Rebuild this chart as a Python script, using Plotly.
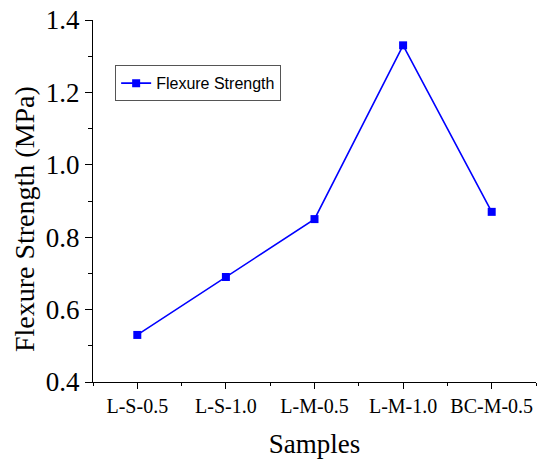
import plotly.graph_objects as go

categories = ["L-S-0.5", "L-S-1.0", "L-M-0.5", "L-M-1.0", "BC-M-0.5"]
flexure_strength = [0.53, 0.69, 0.85, 1.33, 0.87]
y_ticks = [0.4, 0.6, 0.8, 1.0, 1.2, 1.4]

x_pos = list(range(len(categories)))
serif = "Liberation Serif, Times New Roman, serif"

fig = go.Figure()
fig.add_trace(go.Scatter(
    x=x_pos, y=flexure_strength, mode="lines+markers",
    name="Flexure Strength",
    line=dict(color="#0000FF", width=1.6),
    marker=dict(symbol="square", size=8, color="#0000FF"),
))

fig.update_layout(
    width=537, height=459,
    margin=dict(l=93, r=1, t=20, b=77),
    plot_bgcolor="white", paper_bgcolor="white",
    showlegend=True,
    legend=dict(
        x=0.05, y=0.875, xanchor="left", yanchor="top",
        bordercolor="#555555", borderwidth=1, bgcolor="white",
        font=dict(family="Liberation Sans, Arial, sans-serif", size=16, color="black"),
        itemwidth=30, tracegroupgap=0,
    ),
    xaxis=dict(
        range=[-0.5, 4.5], tickvals=x_pos, ticktext=categories, automargin=False,
        ticklabeloverflow="allow",
        showgrid=False, zeroline=False, showline=True, linecolor="black", linewidth=1.2,
        ticks="outside", ticklen=6, tickwidth=1.2, tickcolor="black",
        minor=dict(tickvals=[i + 0.5 for i in range(-1, len(categories))], ticks="outside", ticklen=3, tickcolor="black", tickwidth=1.2),
        tickfont=dict(family=serif, size=20, color="black"),
        title=dict(text="Samples", font=dict(family=serif, size=27, color="black"), standoff=18),
    ),
    yaxis=dict(
        range=[0.4, 1.4], tickvals=y_ticks, tickformat=".1f", automargin=False,
        ticklabeloverflow="allow",
        showgrid=False, zeroline=False, showline=True, linecolor="black", linewidth=1.2,
        ticks="outside", ticklen=7, tickwidth=1.2, tickcolor="black",
        minor=dict(dtick=0.1, ticks="outside", ticklen=4, tickcolor="black", tickwidth=1.2),
        tickfont=dict(family=serif, size=27, color="black"),
    ),
    annotations=[dict(
        text="Flexure Strength (MPa)", textangle=-90,
        xref="paper", yref="paper", x=0, xshift=-69, y=0.45,
        xanchor="center", yanchor="middle", showarrow=False,
        font=dict(family=serif, size=28, color="black"),
    )],
)

fig.write_html(
    "out.html",
    config={"displayModeBar": False},
    post_script="document.body.style.margin='0';document.body.style.overflow='hidden';",
)
